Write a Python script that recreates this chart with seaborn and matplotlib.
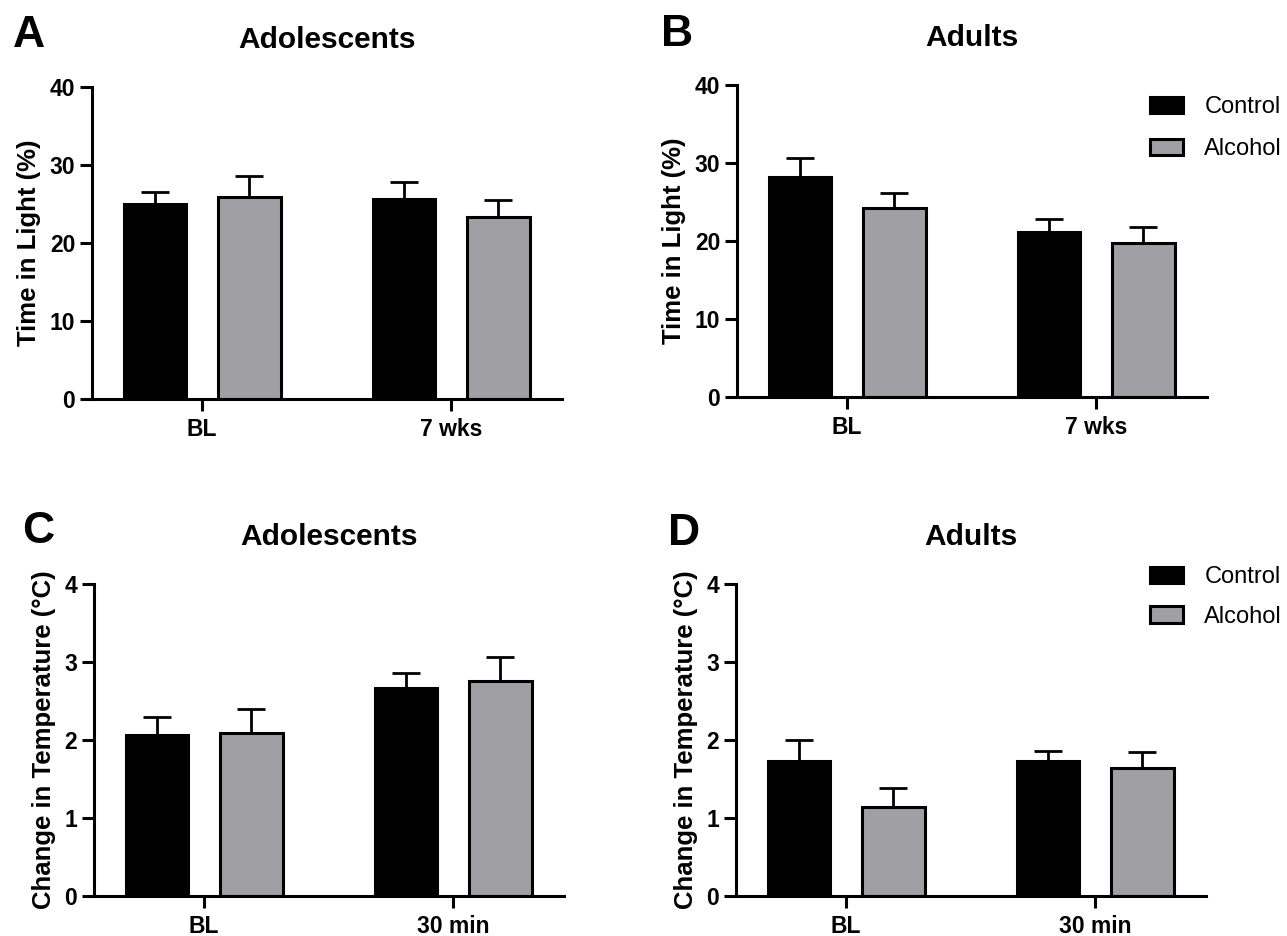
import matplotlib
matplotlib.use("Agg")
import matplotlib.pyplot as plt
import numpy as np
import pandas as pd
import seaborn as sns

# values (mean, upper SEM)
groups_light = ["BL", "7 wks"]
groups_temp = ["BL", "30 min"]
treatments = ["Control", "Alcohol"]

adol_light_ctrl = [25.0, 25.6]
adol_light_ctrl_sem = [1.6, 2.2]
adol_light_alc = [25.9, 23.3]
adol_light_alc_sem = [2.7, 2.25]

adult_light_ctrl = [28.2, 21.2]
adult_light_ctrl_sem = [2.4, 1.6]
adult_light_alc = [24.2, 19.8]
adult_light_alc_sem = [1.9, 2.0]

adol_temp_ctrl = [2.06, 2.67]
adol_temp_ctrl_sem = [0.23, 0.19]
adol_temp_alc = [2.09, 2.76]
adol_temp_alc_sem = [0.31, 0.31]

adult_temp_ctrl = [1.73, 1.73]
adult_temp_ctrl_sem = [0.27, 0.13]
adult_temp_alc = [1.14, 1.64]
adult_temp_alc_sem = [0.24, 0.21]

palette = {"Control": "#000000", "Alcohol": "#a0a0a4"}

sns.set_style("ticks")
plt.rcParams["font.family"] = ["Liberation Sans", "DejaVu Sans"]
plt.rcParams.update({
    "text.color": "black",
    "axes.labelcolor": "black",
    "axes.edgecolor": "black",
    "xtick.color": "black",
    "ytick.color": "black",
})

W, H = 1287, 936
fig = plt.figure(figsize=(W / 100, H / 100), dpi=100)


def make_df(groups, ctrl, ctrl_sem, alc, alc_sem):
    rows = []
    for g, m, s in zip(groups, ctrl, ctrl_sem):
        rows.append({"group": g, "treatment": "Control", "mean": m, "sem": s})
    for g, m, s in zip(groups, alc, alc_sem):
        rows.append({"group": g, "treatment": "Alcohol", "mean": m, "sem": s})
    return pd.DataFrame(rows)


def panel(rect_px, df, groups, title, ylabel, ymax, yticks, letter, letter_xy,
          legend_y=None, legend_sp=0.75):
    x0, x1, ytop, ybot = rect_px
    ax = fig.add_axes([x0 / W, 1 - ybot / H, (x1 - x0) / W, (ybot - ytop) / H])
    sns.barplot(data=df, x="group", y="mean", hue="treatment", order=groups,
                hue_order=treatments, palette=palette, errorbar=None,
                width=0.76, gap=0.34, edgecolor="black", linewidth=2.2,
                saturation=1, ax=ax, legend=legend_y is not None)
    # upper-only error bars on top of each bar
    for cont, trt in zip(ax.containers, treatments):
        sub = df[df["treatment"] == trt].set_index("group").loc[groups]
        xs = [p.get_x() + p.get_width() / 2 for p in cont.patches]
        ax.errorbar(xs, sub["mean"], yerr=[np.zeros(len(xs)), sub["sem"]],
                    fmt="none", ecolor="black", elinewidth=2.0, capsize=10,
                    capthick=2.0, zorder=1)
    ax.set_xlim(-0.443, 1.446)
    ax.set_ylim(0, ymax)
    ax.set_yticks(yticks)
    ax.set_xlabel("")
    ax.set_ylabel(ylabel, fontsize=18.5, fontweight="bold", labelpad=6)
    ax.set_title(title, fontsize=21.5, fontweight="bold", pad=28)
    sns.despine(ax=ax)
    for s in ["left", "bottom"]:
        ax.spines[s].set_linewidth(2.2)
        ax.spines[s].set_color("black")
    ax.tick_params(axis="both", length=8.6, width=2.2, color="black", labelcolor="black")
    ax.tick_params(axis="y", pad=3.5, labelsize=16.5)
    ax.tick_params(axis="x", pad=5, labelsize=16.5)
    for lab in ax.get_xticklabels() + ax.get_yticklabels():
        lab.set_fontweight("bold")
    fig.text(letter_xy[0] / W, 1 - letter_xy[1] / H, letter, fontsize=32,
             fontweight="bold", va="baseline", ha="left", color="black")
    if legend_y is not None:
        sns.move_legend(ax, loc="upper left", bbox_to_anchor=(1150 / W, 1 - legend_y / H),
                        bbox_transform=fig.transFigure, frameon=False, title=None,
                        fontsize=17, handlelength=1.4, handleheight=0.68,
                        handletextpad=0.9, labelspacing=legend_sp, borderpad=0,
                        borderaxespad=0)
        for h in ax.get_legend().legend_handles:
            h.set_edgecolor("black")
            h.set_linewidth(2.2)
    return ax


df_a = make_df(groups_light, adol_light_ctrl, adol_light_ctrl_sem, adol_light_alc, adol_light_alc_sem)
df_b = make_df(groups_light, adult_light_ctrl, adult_light_ctrl_sem, adult_light_alc, adult_light_alc_sem)
df_c = make_df(groups_temp, adol_temp_ctrl, adol_temp_ctrl_sem, adol_temp_alc, adol_temp_alc_sem)
df_d = make_df(groups_temp, adult_temp_ctrl, adult_temp_ctrl_sem, adult_temp_alc, adult_temp_alc_sem)

panel((92, 562, 87, 399), df_a, groups_light, "Adolescents", "Time in Light (%)",
      40, [0, 10, 20, 30, 40], "A", (13, 47))
panel((737, 1207, 85, 397), df_b, groups_light, "Adults", "Time in Light (%)",
      40, [0, 10, 20, 30, 40], "B", (661, 46), legend_y=96, legend_sp=0.85)
panel((94, 564, 584, 896), df_c, groups_temp, "Adolescents", "Change in Temperature (°C)",
      4, [0, 1, 2, 3, 4], "C", (22, 543))
panel((736, 1206, 584, 896), df_d, groups_temp, "Adults", "Change in Temperature (°C)",
      4, [0, 1, 2, 3, 4], "D", (668, 545), legend_y=566)

fig.savefig("out.png", dpi=100)
